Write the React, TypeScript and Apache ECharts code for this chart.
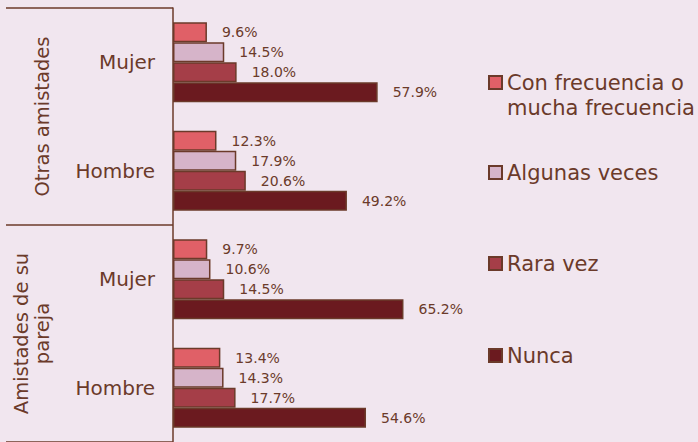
import React, { useEffect, useRef } from "react";
import * as echarts from "echarts";

const categoryKeys = ["otras-mujer", "otras-hombre", "pareja-mujer", "pareja-hombre"];
const categoryLabels = ["Mujer", "Hombre", "Mujer", "Hombre"];
const groupLabels = ["Otras amistades", "Amistades de su\npareja"];

const seriesNames = ["Con frecuencia o\nmucha frecuencia", "Algunas veces", "Rara vez", "Nunca"];
const conFrecuencia = [9.6, 12.3, 9.7, 13.4];
const algunasVeces = [14.5, 17.9, 10.6, 14.3];
const raraVez = [18.0, 20.6, 14.5, 17.7];
const nunca = [57.9, 49.2, 65.2, 54.6];

const seriesValues = [conFrecuencia, algunasVeces, raraVez, nunca];
const seriesColors = ["#E06067", "#D6B4C9", "#A53E48", "#6B1A1F"];
const legendTops = [45, 160, 251, 343];

const BROWN = "#6B3A2A";
const FONT = "DejaVu Sans";

export default function App() {
  const ref = useRef<HTMLDivElement>(null);
  useEffect(() => {
    document.body.style.margin = "0";
    const chart = echarts.init(ref.current!, null, { renderer: "svg" });
    const option: any = {
      animation: false,
      backgroundColor: "#F1E6EF",
      textStyle: { fontFamily: FONT },
      grid: { left: 173, top: 8, width: 353.5, height: 440 },
      xAxis: {
        type: "value",
        min: 0,
        max: 100,
        show: false,
      },
      yAxis: [
        {
          type: "category",
          inverse: true,
          data: categoryKeys,
          axisLine: { show: true, lineStyle: { color: BROWN, width: 1.5 } },
          axisTick: { show: false },
          axisLabel: {
            formatter: (_v: string, i: number) => categoryLabels[i],
            fontSize: 20,
            color: BROWN,
            fontFamily: FONT,
            margin: 18,
          },
        },
        {
          type: "category",
          inverse: true,
          position: "left",
          data: groupLabels,
          axisLine: { show: false },
          splitLine: { show: false },
          axisTick: { show: true, length: 167, lineStyle: { color: BROWN, width: 1.5 } },
          axisLabel: {
            rotate: 90,
            margin: 120,
            fontSize: 19.5,
            lineHeight: 21,
            color: BROWN,
            fontFamily: FONT,
          },
        },
      ],
      legend: seriesNames.map((name, i) => ({
        data: [name],
        orient: "vertical",
        left: 488,
        top: legendTops[i],
        padding: 0,
        itemWidth: 13,
        itemHeight: 13,
        icon: "rect",
        selectedMode: false,
        formatter: (n: string) => (i === 0 ? "\n" + n : n),
        textStyle: {
          fontSize: 21,
          color: BROWN,
          fontFamily: FONT,
          lineHeight: 25,
        },
      })),
      series: seriesNames.map((name, i) => ({
        type: "bar",
        name,
        yAxisIndex: 0,
        data: seriesValues[i],
        barWidth: 20,
        barGap: "0%",
        itemStyle: { color: seriesColors[i], borderColor: BROWN, borderWidth: 1.5 },
        label: {
          show: true,
          position: "right",
          distance: 15,
          fontSize: 14,
          color: BROWN,
          fontFamily: FONT,
          formatter: (p: any) => Number(p.value).toFixed(1) + "%",
        },
      })),
    };
    chart.setOption(option);
    return () => chart.dispose();
  }, []);
  return (
    <div
      ref={ref}
      style={{ position: "absolute", left: 0, top: 0, width: 698, height: 442 }}
    />
  );
}
